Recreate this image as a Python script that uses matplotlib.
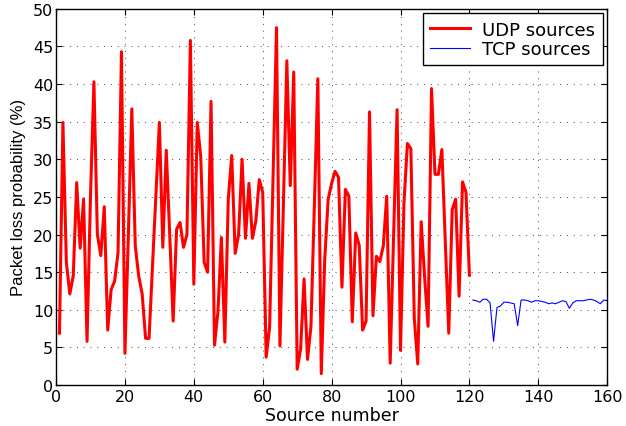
import numpy as np
import matplotlib
matplotlib.use("Agg")
import matplotlib.pyplot as plt

plt.rcParams["font.family"] = ["DejaVu Sans"]

# UDP sources 1..120
udp_src = np.arange(1, 121)
udp_loss = [
    6.9, 34.9, 16.3, 12.1, 14.5, 26.9, 18.2, 24.7, 5.8, 25.0,
    40.3, 20.0, 17.2, 23.7, 7.3, 12.7, 13.8, 17.6, 44.3, 4.2,
    20.0, 36.7, 18.5, 14.5, 12.1, 6.2, 6.2, 15.8, 25.3, 34.9,
    18.3, 31.2, 20.0, 8.5, 20.7, 21.6, 18.3, 20.0, 45.8, 13.4,
    34.9, 30.4, 16.3, 15.0, 37.7, 5.3, 9.7, 19.6, 5.7, 24.7,
    30.5, 17.5, 20.0, 30.0, 19.5, 26.8, 19.5, 21.8, 27.3, 25.6,
    3.7, 7.7, 27.6, 47.5, 5.2, 24.0, 43.1, 26.5, 41.6, 2.1,
    4.8, 14.1, 3.4, 7.8, 24.0, 40.7, 1.5, 16.7, 24.7, 26.8,
    28.4, 27.6, 13.0, 26.0, 25.1, 8.4, 20.2, 18.6, 7.3, 8.5,
    36.3, 9.2, 17.1, 16.4, 18.5, 25.1, 2.9, 20.0, 36.6, 4.6,
    24.2, 32.1, 31.4, 8.8, 2.8, 21.7, 14.3, 7.8, 39.4, 28.0,
    28.0, 31.3, 19.0, 6.9, 23.3, 24.7, 11.8, 27.0, 25.6, 14.6,
]

# TCP sources 121..160
tcp_src = np.arange(121, 161)
tcp_loss = [
    11.3, 11.2, 11.0, 11.4, 11.4, 10.9, 5.8, 10.3, 10.5, 11.0,
    11.0, 10.9, 10.8, 7.9, 11.3, 11.3, 11.2, 11.0, 11.2, 11.2,
    11.1, 11.0, 10.8, 10.9, 10.8, 11.0, 11.2, 11.1, 10.2, 10.9,
    11.2, 11.2, 11.2, 11.3, 11.4, 11.3, 11.1, 10.8, 11.3, 11.2,
]

fig = plt.figure(figsize=(6.26, 4.27), dpi=100)
ax = fig.add_axes([0.0895, 0.096, 0.8805, 0.881])

ax.plot(udp_src, udp_loss, color="#ff0000", lw=2.2, label="UDP sources")
ax.plot(tcp_src, tcp_loss, color="#0000ff", lw=0.8, label="TCP sources")

ax.set_xlim(0, 160)
ax.set_ylim(0, 50)
ax.set_xticks(np.arange(0, 161, 20))
ax.set_yticks(np.arange(0, 51, 5))
ax.grid(True, color="#444444", linestyle=(0, (1, 6)), linewidth=0.7)
ax.tick_params(direction="in", top=True, right=True, labelsize=11.5, length=4)
ax.tick_params(axis="x", pad=3)
ax.tick_params(axis="y", pad=2)
for s in ax.spines.values():
    s.set_linewidth(1.0)

ax.set_xlabel("Source number", fontsize=12.5, labelpad=1)
ax.set_ylabel("Packet loss probability (%)", fontsize=12, labelpad=5,
              family=["Liberation Sans", "DejaVu Sans"])

leg = ax.legend(loc="upper right", fontsize=13, fancybox=False, framealpha=1,
                edgecolor="black", borderaxespad=0.25, handlelength=2.2,
                borderpad=0.4, labelspacing=0.08, handletextpad=0.7)
leg.get_frame().set_linewidth(1.0)

fig.savefig("out.png", dpi=100)
